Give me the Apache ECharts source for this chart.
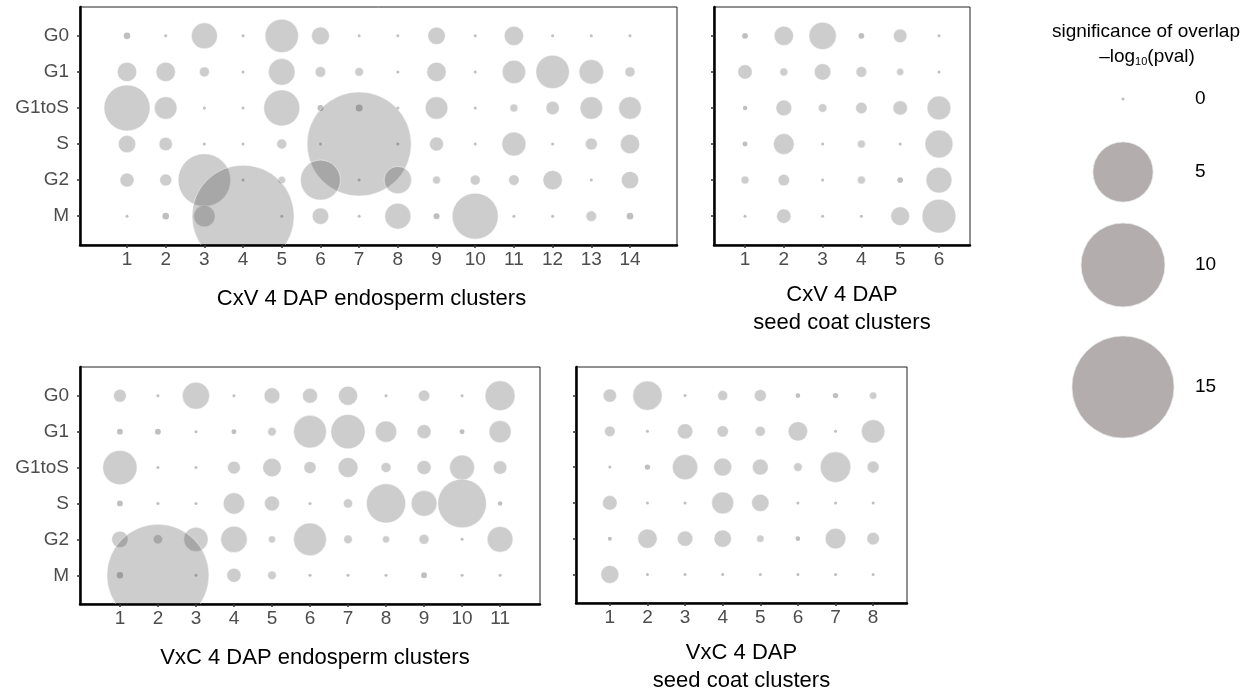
<!DOCTYPE html>
<html>
<head>
<meta charset="utf-8">
<script src="https://cdn.jsdelivr.net/npm/echarts@6/dist/echarts.min.js"></script>
<style>
html,body{margin:0;padding:0;background:#fff;}
#chart{width:1254px;height:696px;}
</style>
</head>
<body>
<div id="chart"></div>
<script>
// ---- data: -log10(pval) of overlap, rows = phases, columns = clusters ----
const phases = ['G0', 'G1', 'G1toS', 'S', 'G2', 'M'];

const cxvEndoClusters = [1,2,3,4,5,6,7,8,9,10,11,12,13,14];
const cxvEndo = [
  [0.02, 0, 0.81, 0, 1.41, 0.34, 0, 0, 0.32, 0, 0.41, 0, 0, 0],
  [0.41, 0.41, 0.075, 0, 0.85, 0.088, 0.048, 0, 0.41, 0, 0.635, 1.41, 0.71, 0.075],
  [2.82, 0.586, 0, 0, 1.66, 0.014, 0.024, 0, 0.586, 0, 0.038, 0.165, 0.586, 0.586],
  [0.316, 0.165, 0, 0, 0.075, 0, 15.6, 0, 0.185, 0, 0.673, 0, 0.124, 0.41],
  [0.185, 0.124, 3.75, 0, 0.03, 2.09, 0, 0.91, 0.038, 0.075, 0.088, 0.41, 0, 0.316],
  [0, 0.02, 0.517, 14.96, 0, 0.28, 0, 0.81, 0.014, 2.82, 0, 0, 0.088, 0.02]
];

const cxvCoatClusters = [1,2,3,4,5,6];
const cxvCoat = [
  [0.012, 0.41, 0.91, 0.012, 0.17, 0],
  [0.2, 0.038, 0.28, 0.093, 0.027, 0],
  [0.003, 0.25, 0.048, 0.11, 0.2, 0.66],
  [0.006, 0.485, 0, 0.038, 0, 0.954],
  [0.038, 0.11, 0, 0.038, 0.012, 0.8],
  [0, 0.2, 0, 0, 0.376, 1.45]
];

const vxcEndoClusters = [1,2,3,4,5,6,7,8,9,10,11];
const vxcEndo = [
  [0.147, 0, 0.89, 0, 0.25, 0.22, 0.4, 0, 0.108, 0, 1.11],
  [0.012, 0.012, 0, 0.006, 0.048, 1.36, 1.49, 0.517, 0.19, 0.006, 0.56],
  [1.49, 0, 0, 0.147, 0.37, 0.13, 0.44, 0.075, 0.19, 0.738, 0.17],
  [0.012, 0, 0, 0.517, 0.22, 0, 0.059, 2.0, 0.79, 3.17, 0.003],
  [0.274, 0.059, 0.69, 0.84, 0.027, 1.36, 0.048, 0.027, 0.075, 0, 0.79],
  [0.018, 14.96, 0, 0.19, 0.048, 0, 0, 0, 0.012, 0, 0]
];

const vxcCoatClusters = [1,2,3,4,5,6,7,8];
const vxcCoat = [
  [0.165, 1.06, 0, 0.075, 0.124, 0.004, 0.009, 0.03],
  [0.088, 0, 0.235, 0.108, 0.075, 0.41, 0, 0.635],
  [0, 0.009, 0.766, 0.343, 0.258, 0.048, 1.16, 0.124],
  [0.205, 0, 0, 0.551, 0.316, 0, 0, 0],
  [0.0015, 0.41, 0.235, 0.316, 0.03, 0.004, 0.473, 0.14],
  [0.343, 0, 0, 0, 0, 0, 0, 0]
];

const legendValues = [0, 5, 10, 15];

// ---- size scale (radius grows with sqrt of value) ----
function radius(v) { return 1.5 + 12.8 * Math.sqrt(v); }

const FONT = "'Liberation Sans', Arial, Helvetica, sans-serif";

const panels = [
  { clusters: cxvEndoClusters, values: cxvEndo, name: 'CxV 4 DAP endosperm clusters',
    grid: { left: 80, top: 7, width: 597, height: 238 }, xmin: -0.215, xmax: 15.215, ylabels: true, namePad: [0, 14, 0, 0], nameGap: 40 },
  { clusters: cxvCoatClusters, values: cxvCoat, name: 'CxV 4 DAP\nseed coat clusters',
    grid: { left: 714, top: 7, width: 256, height: 238 }, xmin: 0.2, xmax: 6.8, ylabels: false, namePad: [0, 0, 0, 0], nameGap: 36 },
  { clusters: vxcEndoClusters, values: vxcEndo, name: 'VxC 4 DAP endosperm clusters',
    grid: { left: 80, top: 367, width: 460, height: 237 }, xmin: -0.05, xmax: 12.05, ylabels: true, namePad: [0, 0, 0, 10], nameGap: 40 },
  { clusters: vxcCoatClusters, values: vxcCoat, name: 'VxC 4 DAP\nseed coat clusters',
    grid: { left: 576, top: 367, width: 331, height: 237 }, xmin: 0.1, xmax: 8.9, ylabels: false, namePad: [0, 0, 0, 0], nameGap: 36 }
];

const grids = [], xAxes = [], yAxes = [], series = [];

panels.forEach((p, k) => {
  grids.push(Object.assign({ show: true, borderColor: '#222', borderWidth: 1, backgroundColor: '#fff', containLabel: false }, p.grid));
  xAxes.push({
    gridIndex: k, type: 'value', min: p.xmin, max: p.xmax,
    splitLine: { show: false },
    axisLine: { show: true, onZero: false, lineStyle: { color: '#000', width: 2.5 } },
    axisTick: { show: true, length: 3, lineStyle: { color: '#333', width: 1.5 }, customValues: p.clusters },
    axisLabel: { show: true, customValues: p.clusters, margin: 5, color: '#4d4d4d', fontSize: 19, fontFamily: FONT },
    name: p.name, nameLocation: 'middle', nameGap: p.nameGap,
    nameTextStyle: { color: '#000', fontSize: 22, fontFamily: FONT, lineHeight: 28, padding: p.namePad }
  });
  yAxes.push({
    gridIndex: k, type: 'value', min: 0.2, max: 6.8, inverse: true,
    splitLine: { show: false },
    axisLine: { show: true, onZero: false, lineStyle: { color: '#000', width: 2.5 } },
    axisTick: { show: true, length: 3, lineStyle: { color: '#333', width: 1.5 }, customValues: [1, 2, 3, 4, 5, 6] },
    axisLabel: { show: p.ylabels, customValues: [1, 2, 3, 4, 5, 6], margin: 11, color: '#4d4d4d', fontSize: 19, fontFamily: FONT,
      formatter: v => phases[Math.round(v) - 1] || '' }
  });
  const data = [];
  p.values.forEach((row, i) => {
    row.forEach((v, j) => data.push([p.clusters[j], i + 1, v]));
  });
  series.push({
    type: 'custom', xAxisIndex: k, yAxisIndex: k, clip: true,
    encode: { x: 0, y: 1 },
    data: data,
    renderItem: function (params, api) {
      const c = api.coord([api.value(0), api.value(1)]);
      const r = radius(api.value(2));
      return {
        type: 'circle', shape: { cx: c[0], cy: c[1], r: r },
        style: r > 3.5
          ? { fill: 'rgba(55,55,55,0.25)', stroke: 'rgba(255,255,255,0.6)', lineWidth: 0.8 }
          : { fill: 'rgba(55,55,55,0.32)' }
      };
    }
  });
});

// ---- size legend: one tiny grid per key ----
const legendCenters = [99, 172, 265, 387];
legendValues.forEach((lv, i) => {
  const k = grids.length;
  grids.push({ left: 1073, width: 100, top: legendCenters[i] - 1, height: 2, show: false });
  xAxes.push({ gridIndex: k, type: 'value', min: -1, max: 1, show: false });
  yAxes.push({
    gridIndex: k, type: 'value', min: -1, max: 1, position: 'right',
    splitLine: { show: false }, axisLine: { show: false }, axisTick: { show: false },
    axisLabel: { show: true, customValues: [0], margin: 22, color: '#000', fontSize: 19, fontFamily: FONT, formatter: () => String(lv) }
  });
  series.push({
    type: 'scatter', xAxisIndex: k, yAxisIndex: k, silent: true,
    data: [[0, 0, lv]],
    symbolSize: val => 2 * radius(val[2]),
    itemStyle: { color: '#b3adad', borderColor: 'rgba(235,235,235,0.9)', borderWidth: 0.8, opacity: 1 }
  });
});

const chart = echarts.init(document.getElementById('chart'), null, { renderer: 'canvas' });
chart.setOption({
  animation: false,
  backgroundColor: '#fff',
  grid: grids,
  xAxis: xAxes,
  yAxis: yAxes,
  series: series,
  graphic: [
    { type: 'text', x: 1146, y: 32, style: { text: 'significance of overlap', fill: '#000', font: '19px ' + FONT, textAlign: 'center', textVerticalAlign: 'middle' } },
    { type: 'text', x: 1147, y: 57, style: {
        text: '\u2013log{sub|10}(pval)', fill: '#000', font: '19px ' + FONT, textAlign: 'center', textVerticalAlign: 'middle',
        rich: { sub: { fontSize: 11, fontFamily: FONT, fill: '#000', verticalAlign: 'bottom', padding: [9, 0, 0, 0] } } } }
  ]
});
</script>
</body>
</html>
